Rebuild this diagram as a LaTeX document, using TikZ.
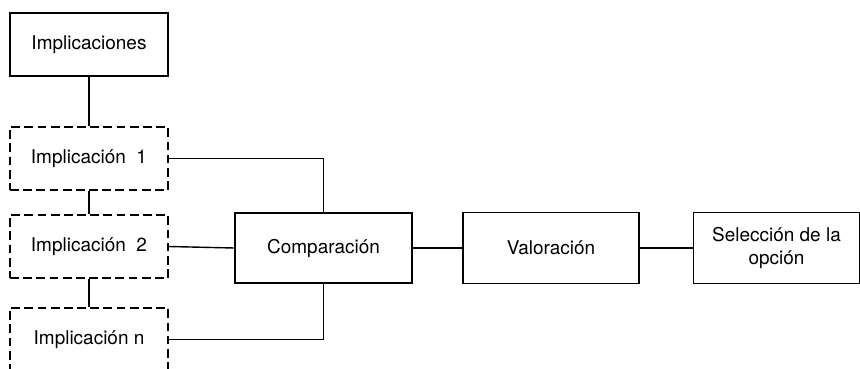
\documentclass[tikz,border=0pt]{standalone}
\usepackage{fontspec}
\setmainfont{TeX Gyre Heros}
\usepackage{tikz}
\usetikzlibrary{positioning}
\tikzset{%
    bloque/.style={%
        draw, line width=0.8pt, inner sep=0pt,
        minimum width=3.16cm, minimum height=1.26cm,
        font=\fontsize{10.8}{13}\selectfont, align=center
    },
    implic/.style={bloque, dash pattern=on 5pt off 2.5pt}
}

\begin{document}
\begin{tikzpicture}[x=0.02cm,y=-0.02cm,line width=0.8pt]
\useasboundingbox (0,0) rectangle (860,369);

\node[bloque] (impls) at (89,44.5) {Implicaciones};
\node[implic] (imp1) at (89,158.5) {Implicación\ \ 1};
\node[implic] (imp2) at (89,246.5) {Implicación\ \ 2};
\node[implic] (impn) at (89,339.5) {Implicación n};

\node[bloque,minimum width=3.54cm,minimum height=1.4cm] (comp) at (323.5,248) {Comparación};
\node[bloque,minimum width=3.52cm,minimum height=1.42cm] (val) at (551,248) {Valoración};
\node[bloque,minimum width=3.32cm,minimum height=1.42cm] (sel) at (776.5,248) {Selección de la\\opción};

\draw (impls.south) -- (imp1.north);
\draw (imp1.south) -- (imp2.north);
\draw (imp2.south) -- (impn.north);

\draw (imp1.east) -| (comp.north);
\draw (imp2.east) -- (comp.west);
\draw (impn.east) -| (comp.south);

\draw (comp.east) -- (val.west);
\draw (val.east) -- (sel.west);
\end{tikzpicture}
\end{document}
